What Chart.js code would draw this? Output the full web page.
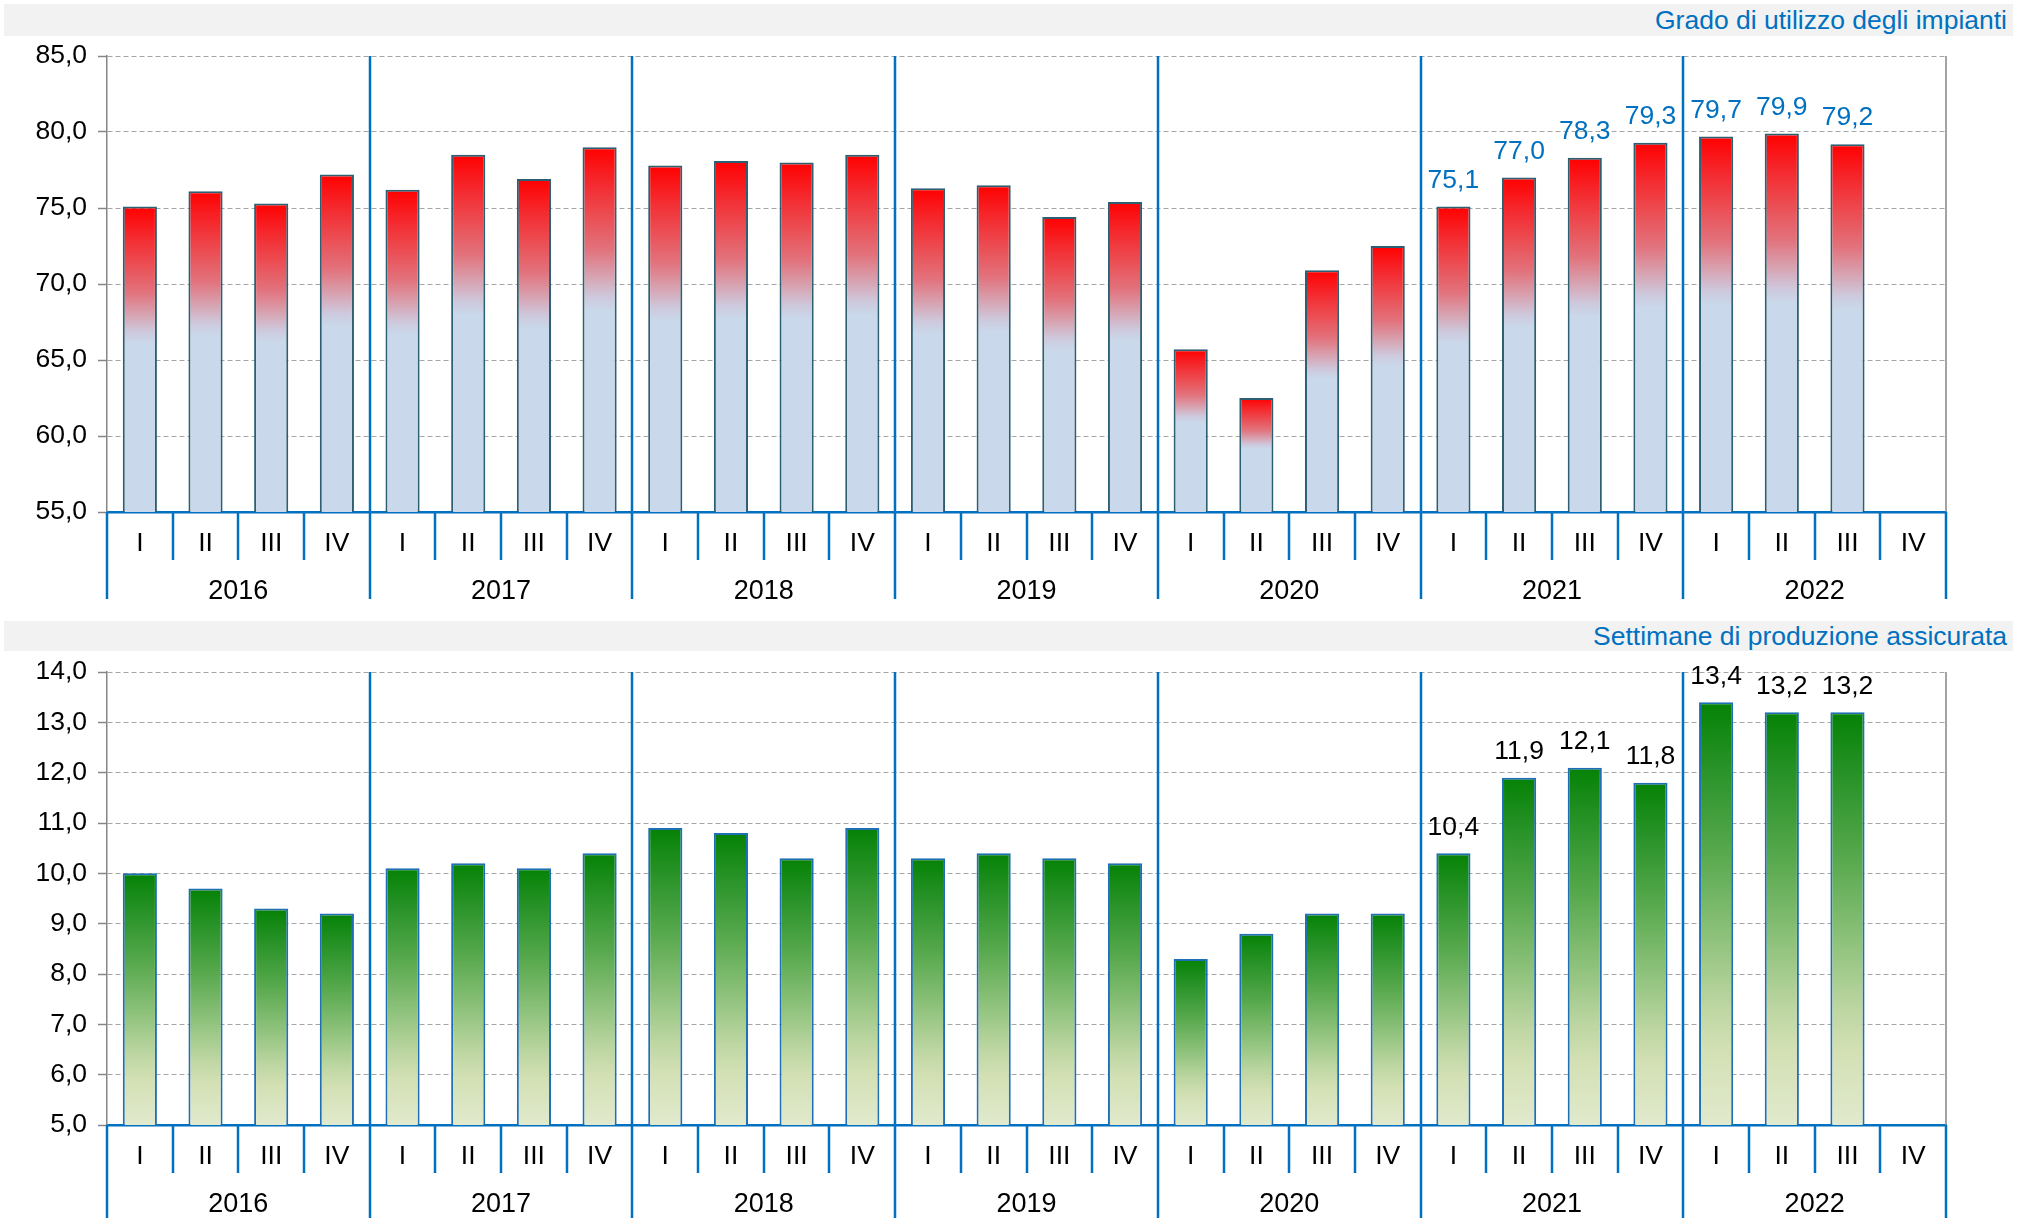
<!DOCTYPE html>
<html>
<head>
<meta charset="utf-8">
<script src="https://cdn.jsdelivr.net/npm/chart.js@4.4.0/dist/chart.umd.min.js"></script>
<style>
  body { margin: 0; background: #fff; width: 2030px; height: 1218px; overflow: hidden; position: relative;
         font-family: "Liberation Sans", Arial, sans-serif; }
  .band { position: absolute; left: 4px; width: 2009px; background: #f2f2f2; color: #0070c0;
          font-size: 26.5px; text-align: right; box-sizing: border-box; padding-right: 6px; }
  #band1 { top: 4px; height: 32px; line-height: 32px; }
  #band2 { top: 621px; height: 30px; line-height: 30px; }
  canvas { position: absolute; left: 0; }
  #c1 { top: 26px; }
  #c2 { top: 642px; }
</style>
</head>
<body>
<div class="band" id="band1">Grado di utilizzo degli impianti</div>
<div class="band" id="band2">Settimane di produzione assicurata</div>
<canvas id="c1" width="2030" height="590"></canvas>
<canvas id="c2" width="2030" height="576"></canvas>
<script>
// categories
const years = ['2016', '2017', '2018', '2019', '2020', '2021', '2022'];
const quarters = [];
years.forEach(() => quarters.push('I', 'II', 'III', 'IV'));

// grado di utilizzo degli impianti (%)
const utilizzo = [75.1, 76.1, 75.3, 77.2,
                  76.2, 78.5, 76.9, 79.0,
                  77.8, 78.1, 78.0, 78.5,
                  76.3, 76.5, 74.4, 75.4,
                  65.7, 62.5, 70.9, 72.5,
                  75.1, 77.0, 78.3, 79.3,
                  79.7, 79.9, 79.2, null];

// settimane di produzione assicurata
const settimane = [10.0, 9.7, 9.3, 9.2,
                   10.1, 10.2, 10.1, 10.4,
                   10.9, 10.8, 10.3, 10.9,
                   10.3, 10.4, 10.3, 10.2,
                   8.3, 8.8, 9.2, 9.2,
                   10.4, 11.9, 12.1, 11.8,
                   13.4, 13.2, 13.2, null];

// values shown on top of the bars from this index on
const labelFrom = 20;

const FONT = '"Liberation Sans", Arial, sans-serif';
const fmt = v => v.toFixed(1).replace('.', ',');

function barGradient(stops) {
  return function (c) {
    const ch = c.chart;
    if (!ch.chartArea || c.type !== 'data' || c.raw == null) return stops[stops.length - 1][1];
    const y = ch.scales.y;
    const top = y.getPixelForValue(c.raw);
    const bot = y.getPixelForValue(y.min);
    const g = ch.ctx.createLinearGradient(0, top, 0, bot);
    stops.forEach(s => g.addColorStop(s[0], s[1]));
    return g;
  };
}

const redBlue = [[0, '#ff0000'], [0.1, '#f42a2f'], [0.2, '#ea5258'], [0.28, '#e2727c'],
                 [0.35, '#d8a0ae'], [0.41, '#cec8dc'], [0.45, '#c9d9eb'], [1, '#c9d9eb']];
const green = [[0, '#058205'], [0.15, '#279227'], [0.35, '#56a84c'], [0.55, '#8cc17a'],
               [0.72, '#bdd6a2'], [0.82, '#d3e0b4'], [1, '#e1eacd']];

// year separators, quarter separators, year labels, right border
const yearAxis = {
  id: 'yearAxis',
  afterDraw(chart, args, o) {
    const { ctx, chartArea: a } = chart;
    const x = chart.scales.x;
    const half = (x.getPixelForValue(1) - x.getPixelForValue(0)) / 2;
    const n = quarters.length;
    ctx.save();
    ctx.strokeStyle = '#868686';
    ctx.lineWidth = 1.5;
    ctx.beginPath();
    ctx.moveTo(a.right, a.top);
    ctx.lineTo(a.right, a.bottom);
    ctx.stroke();
    ctx.strokeStyle = '#0070c0';
    ctx.lineWidth = 2.5;
    for (let i = 0; i <= n; i++) {
      const px = Math.round(i < n ? x.getPixelForValue(i) - half : x.getPixelForValue(n - 1) + half);
      let y0 = a.bottom, y1 = a.bottom + o.qLen;
      if (i % 4 === 0) {
        y1 = o.yearEnd;
        if (i > 0 && i < n) y0 = a.top;
      }
      ctx.beginPath();
      ctx.moveTo(px, y0);
      ctx.lineTo(px, y1);
      ctx.stroke();
    }
    ctx.fillStyle = '#000';
    ctx.font = '27px ' + FONT;
    ctx.textAlign = 'center';
    ctx.textBaseline = 'middle';
    years.forEach((yr, k) => {
      const cx = (x.getPixelForValue(4 * k) + x.getPixelForValue(4 * k + 3)) / 2;
      ctx.fillText(yr, cx, a.bottom + o.yearPos);
    });
    ctx.restore();
  },
  afterDatasetsDraw(chart, args, o) {
    const { ctx } = chart;
    const meta = chart.getDatasetMeta(0);
    const data = chart.data.datasets[0].data;
    ctx.save();
    ctx.fillStyle = o.labelColor;
    ctx.font = '26.5px ' + FONT;
    ctx.textAlign = 'center';
    ctx.textBaseline = 'middle';
    meta.data.forEach((bar, i) => {
      if (i < labelFrom || data[i] == null) return;
      ctx.fillText(fmt(data[i]), bar.x, bar.y - 26);
    });
    ctx.restore();
  }
};

function makeChart(id, values, yMin, yMax, step, fill, border, o) {
  return new Chart(document.getElementById(id), {
    type: 'bar',
    data: {
      labels: quarters,
      datasets: [{
        data: values,
        backgroundColor: barGradient(fill),
        borderColor: border,
        borderWidth: 2,
        barPercentage: 0.52,
        categoryPercentage: 1
      }]
    },
    plugins: [yearAxis],
    options: {
      responsive: false,
      animation: false,
      devicePixelRatio: 1,
      layout: { padding: { top: 30, right: 84, left: 0, bottom: 0 } },
      plugins: {
        legend: { display: false },
        tooltip: { enabled: false },
        yearAxis: o
      },
      scales: {
        x: {
          grid: { display: false, drawTicks: false },
          border: { display: true, color: '#0070c0', width: 2.5 },
          ticks: { color: '#000', font: { family: FONT, size: 26.5 }, padding: 16,
                   autoSkip: false, maxRotation: 0 },
          afterFit: s => { s.height = o.xHeight; }
        },
        y: {
          min: yMin,
          max: yMax,
          grid: { color: '#a6a6a6', lineWidth: 1, tickLength: 9, tickColor: '#868686', tickWidth: 1.5 },
          border: { display: true, color: '#868686', width: 1.5, dash: [5, 3] },
          ticks: { stepSize: step, color: '#000', font: { family: FONT, size: 26.5 }, padding: 11,
                   callback: v => fmt(v) },
          afterFit: s => { s.width = 107; }
        }
      }
    }
  });
}

makeChart('c1', utilizzo, 55, 85, 5, redBlue, '#2d5f72',
  { xHeight: 104, qLen: 48, yearEnd: 573, yearPos: 80, labelColor: '#0070c0' });
makeChart('c2', settimane, 5, 14, 1, green, '#1e6fb4',
  { xHeight: 93, qLen: 48, yearEnd: 576, yearPos: 80, labelColor: '#000' });
</script>
</body>
</html>
